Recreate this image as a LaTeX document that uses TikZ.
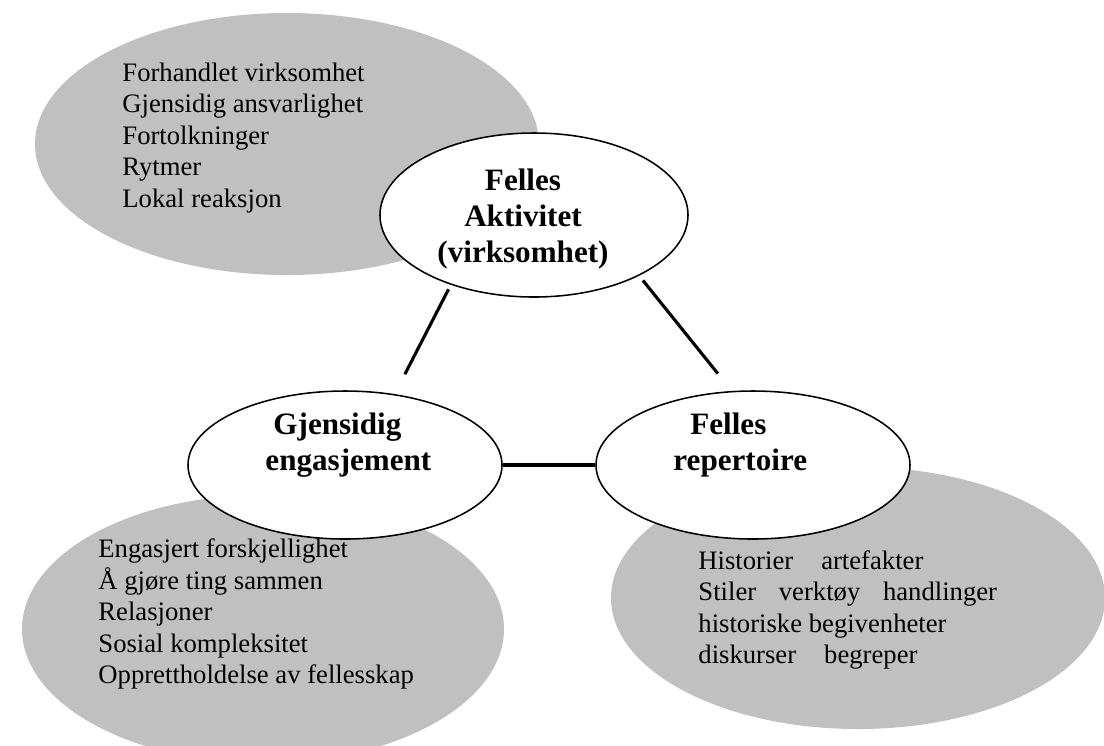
\documentclass[tikz,border=0pt]{standalone}
\usepackage{fontspec}
\setmainfont{Liberation Serif}
\usetikzlibrary{shapes.geometric}
\usetikzlibrary{positioning}
\definecolor{bakgrunn}{RGB}{192,192,192}

\tikzset{
  kjerne/.style={ellipse, draw=black, line width=0.7pt, fill=white, inner sep=0pt},
  tittel/.style={font=\fontsize{14}{16}\selectfont\bfseries, align=center, inner sep=0pt},
  liste/.style={font=\fontsize{12}{14.2}\selectfont, align=left, anchor=west, inner sep=0pt},
  strek/.style={line width=1.4pt}
}

\begin{document}
\begin{tikzpicture}[x=0.45pt, y=-0.45pt]
\def\bredde{1104}
\def\hoyde{745}
% Rahmen (Bildgroesse in Pixeln)
\path[use as bounding box, clip] (0,0) rectangle (\bredde,\hoyde);

% graue Ellipsen im Hintergrund
\fill[bakgrunn] (287,144) ellipse [x radius=252, y radius=131];
\fill[bakgrunn] (263,629) ellipse [x radius=241, y radius=134];
\fill[bakgrunn] (858,598) ellipse [x radius=247, y radius=131];

% Listen in den grauen Ellipsen
\node[liste] (virkliste) at (122,138) {Forhandlet virksomhet\\Gjensidig ansvarlighet\\Fortolkninger\\Rytmer\\Lokal reaksjon};
\node[liste] (engliste) at (98,614) {Engasjert forskjellighet\\Å gjøre ting sammen\\Relasjoner\\Sosial kompleksitet\\Opprettholdelse av fellesskap};
\node[liste] (repliste) at (698,610) {Historier\hspace{0.8em} artefakter\\Stiler\hspace{0.6em} verktøy\hspace{0.6em} handlinger\\historiske begivenheter\\diskurser\hspace{0.8em} begreper};

% weisse Ellipsen
\node[kjerne, minimum width=308*0.45pt, minimum height=164*0.45pt] (aktivitet) at (534,215) {};
\node[kjerne, minimum width=314*0.45pt, minimum height=148*0.45pt] (engasjement) at (345,465) {};
\node[kjerne, minimum width=314*0.45pt, minimum height=148*0.45pt] (repertoire) at (753,465) {};

% Beschriftung
\node[tittel] (aktivitettekst) at (523,219) {Felles\\Aktivitet\\(virksomhet)};
\node[tittel, align=left, anchor=west] (engasjementtekst) at (265,445) {\hspace*{3.6pt}Gjensidig\\engasjement};
\node[tittel, align=left, anchor=west] (repertoiretekst) at (673,445) {\hspace*{7.6pt}Felles\\repertoire};

% Verbindungslinien
\draw[strek, shorten <=2.3pt, shorten >=10pt] (aktivitet.220) -- (engasjement.55);
\draw[strek, shorten <=2.7pt, shorten >=10pt] (aktivitet.330) -- (repertoire.106);
\draw[strek] (engasjement.east) -- (repertoire.west);
\end{tikzpicture}
\end{document}
